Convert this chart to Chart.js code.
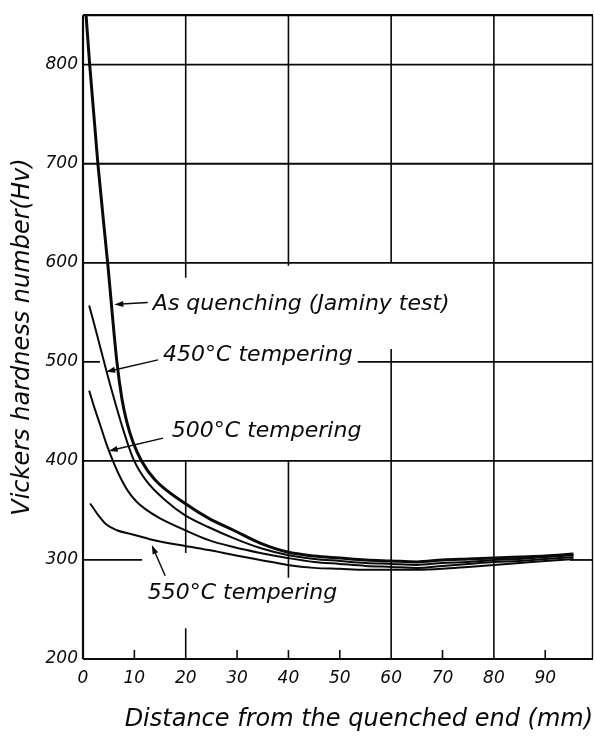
<!DOCTYPE html>
<html>
<head>
<meta charset="utf-8">
<script src="https://cdn.jsdelivr.net/npm/chart.js@4.4.0/dist/chart.umd.min.js"></script>
<style>
html, body { margin: 0; padding: 0; background: #fff; }
canvas { display: block; }
</style>
</head>
<body>
<canvas id="c" width="594" height="744"></canvas>
<script>
// ---------- data ----------
const xTickValues = [0, 10, 20, 30, 40, 50, 60, 70, 80, 90];
const yTickValues = [200, 300, 400, 500, 600, 700, 800];
const xGridValues = [20, 40, 60, 80];
const yGridValues = [300, 400, 500, 600, 700, 800];
const xMinorTickValues = [10, 30, 50, 70, 90];

const quenchDistance = [0.6, 1.3, 2.9, 4.8, 6.6, 7.6, 8.5, 9.8, 11.4, 14.0, 19.9, 24.5, 29.3, 34.5, 39.8, 45, 50, 55, 60, 65, 70, 75, 80, 85, 90, 95.5];
const quenchHardness = [850, 800, 700, 600, 500, 462, 440, 418, 400, 381, 357, 342, 330, 317, 308, 304, 302, 300, 299, 298, 300, 301, 302, 303, 304, 306];

const temper450Distance = [1.2, 2.6, 4.1, 5.6, 7.5, 9.8, 12.3, 16.3, 19.9, 24.5, 29.3, 34.5, 39.8, 45, 50, 55, 60, 65, 70, 75, 80, 85, 90, 95.5];
const temper450Hardness = [557, 530, 500, 471, 437, 402, 380, 359, 345, 333, 322, 312, 305, 301, 299, 297, 296, 295, 297, 298, 300, 301, 303, 305];

const temper500Distance = [1.2, 2.2, 3.3, 4.5, 5.9, 7.2, 8.7, 10.4, 12.5, 15.0, 19.9, 24.5, 29.3, 34.5, 39.8, 45, 50, 55, 60, 65, 70, 75, 80, 85, 90, 95.5];
const temper500Hardness = [471, 454, 437, 418, 399, 384, 370, 359, 350, 342, 330, 320, 313, 307, 302, 298, 296, 294, 293, 292, 294, 296, 298, 299, 301, 303];

const temper550Distance = [1.4, 3.0, 4.5, 6.6, 9.5, 13.0, 19.9, 24.5, 29.3, 34.5, 39.8, 45, 50, 55, 60, 65, 70, 75, 80, 85, 90, 95.5];
const temper550Hardness = [357, 345, 336, 330, 326, 321, 314, 310, 305, 300, 295, 292, 291, 290, 290, 290, 291, 293, 295, 297, 299, 301];

const seriesNames = ['As quenching (Jaminy test)', '450°C tempering', '500°C tempering', '550°C tempering'];
const xTitle = 'Distance from the quenched end (mm)';
const yTitle = 'Vickers hardness number(Hv)';

// ---------- styling ----------
const FONT = "'DejaVu Sans', sans-serif";
const INK = '#0a0a0a';
const seriesWidths = [3, 2, 2, 2];

// gaps in the hand-drawn grid (in data units)
const verticalGridBreaks = { 20: [[231, 307], [400, 585]], 40: [[209, 282], [400, 597]], 60: [[513, 600]] };
const horizontalGridBreaks = { 300: [[11.5, 94.8]], 500: [[3.3, 53.5]] };

// annotation labels with arrows (data units)
const annotations = [
  { text: seriesNames[0], at: [13.6, 558], from: [12.6, 560], to: [6.1, 558] },
  { text: seriesNames[1], at: [15.6, 507], from: [14.6, 502], to: [4.5, 490] },
  { text: seriesNames[2], at: [17.3, 430], from: [15.6, 423], to: [5.0, 410] },
  { text: seriesNames[3], at: [12.6, 266], from: [16.0, 284], to: [13.4, 315] }
];

const toPoints = (xs, ys) => xs.map((x, i) => ({ x: x, y: ys[i] }));
const seriesData = [
  toPoints(quenchDistance, quenchHardness),
  toPoints(temper450Distance, temper450Hardness),
  toPoints(temper500Distance, temper500Hardness),
  toPoints(temper550Distance, temper550Hardness)
];

function segmentsWithBreaks(lo, hi, breaks) {
  const segs = [];
  let start = lo;
  (breaks || []).slice().sort((a, b) => a[0] - b[0]).forEach(b => {
    if (b[0] > start) segs.push([start, b[0]]);
    start = Math.max(start, b[1]);
  });
  if (start < hi) segs.push([start, hi]);
  return segs;
}

const gridPlugin = {
  id: 'handGrid',
  beforeDatasetsDraw(chart) {
    const { ctx, chartArea: a, scales: { x, y } } = chart;
    ctx.save();
    ctx.strokeStyle = INK;
    ctx.lineCap = 'butt';
    ctx.lineWidth = 1.6;
    xGridValues.forEach(v => {
      const px = x.getPixelForValue(v);
      segmentsWithBreaks(y.min, y.max, verticalGridBreaks[v]).forEach(s => {
        ctx.beginPath();
        ctx.moveTo(px, y.getPixelForValue(s[0]));
        ctx.lineTo(px, y.getPixelForValue(s[1]));
        ctx.stroke();
      });
    });
    ctx.lineWidth = 1.8;
    yGridValues.forEach(v => {
      const py = y.getPixelForValue(v);
      segmentsWithBreaks(x.min, x.max, horizontalGridBreaks[v]).forEach(s => {
        ctx.beginPath();
        ctx.moveTo(x.getPixelForValue(s[0]), py);
        ctx.lineTo(x.getPixelForValue(s[1]), py);
        ctx.stroke();
      });
    });
    ctx.lineWidth = 1.6;
    xMinorTickValues.forEach(v => {
      const px = x.getPixelForValue(v);
      ctx.beginPath();
      ctx.moveTo(px, a.bottom);
      ctx.lineTo(px, a.bottom - 9);
      ctx.stroke();
    });
    ctx.lineWidth = 2.2;
    ctx.beginPath();
    ctx.moveTo(a.left, a.top); ctx.lineTo(a.right, a.top);
    ctx.moveTo(a.left, a.top); ctx.lineTo(a.left, a.bottom);
    ctx.moveTo(a.left, a.bottom); ctx.lineTo(a.right, a.bottom);
    ctx.stroke();
    ctx.lineWidth = 1.4;
    ctx.beginPath();
    ctx.moveTo(a.right - 0.5, a.top); ctx.lineTo(a.right - 0.5, a.bottom);
    ctx.stroke();
    ctx.restore();
  }
};

const annotationPlugin = {
  id: 'handNotes',
  afterDatasetsDraw(chart) {
    const { ctx, scales: { x, y } } = chart;
    ctx.save();
    ctx.fillStyle = INK;
    ctx.strokeStyle = INK;
    ctx.font = 'italic 22px ' + FONT;
    ctx.textAlign = 'left';
    ctx.textBaseline = 'middle';
    annotations.forEach(n => {
      ctx.fillText(n.text, x.getPixelForValue(n.at[0]), y.getPixelForValue(n.at[1]));
      const x0 = x.getPixelForValue(n.from[0]), y0 = y.getPixelForValue(n.from[1]);
      const x1 = x.getPixelForValue(n.to[0]), y1 = y.getPixelForValue(n.to[1]);
      const ang = Math.atan2(y1 - y0, x1 - x0);
      const L = 9, W = 3;
      ctx.lineWidth = 1.5;
      ctx.beginPath();
      ctx.moveTo(x0, y0);
      ctx.lineTo(x1 - Math.cos(ang) * L * 0.8, y1 - Math.sin(ang) * L * 0.8);
      ctx.stroke();
      ctx.beginPath();
      ctx.moveTo(x1, y1);
      ctx.lineTo(x1 - Math.cos(ang) * L - Math.sin(ang) * W, y1 - Math.sin(ang) * L + Math.cos(ang) * W);
      ctx.lineTo(x1 - Math.cos(ang) * L + Math.sin(ang) * W, y1 - Math.sin(ang) * L - Math.cos(ang) * W);
      ctx.closePath();
      ctx.fill();
    });
    ctx.restore();
  }
};

const tickFont = { family: FONT, size: 17, style: 'italic' };
const titleFont = { family: FONT, size: 24, style: 'italic' };

new Chart(document.getElementById('c').getContext('2d'), {
  type: 'line',
  data: {
    datasets: seriesData.map((pts, i) => ({
      label: seriesNames[i],
      data: pts,
      borderColor: INK,
      borderWidth: seriesWidths[i],
      pointRadius: 0,
      fill: false,
      cubicInterpolationMode: 'monotone'
    }))
  },
  options: {
    responsive: false,
    animation: false,
    devicePixelRatio: 1,
    layout: { padding: { top: 11, right: 1, left: 0, bottom: 0 } },
    plugins: { legend: { display: false }, tooltip: { enabled: false } },
    scales: {
      x: {
        type: 'linear', min: 0, max: 99.3,
        afterBuildTicks: s => { s.ticks = xTickValues.map(v => ({ value: v })); },
        afterFit: s => { s.height = 85; },
        grid: { display: false, drawTicks: false },
        border: { display: false },
        ticks: { font: tickFont, color: INK, padding: 9, maxRotation: 0, autoSkip: false, callback: v => String(v) },
        title: { display: true, text: xTitle, align: 'end', font: titleFont, color: INK, padding: { top: 0, bottom: 10 } }
      },
      y: {
        type: 'linear', min: 200, max: 850,
        afterBuildTicks: s => { s.ticks = yTickValues.map(v => ({ value: v })); },
        afterFit: s => { s.width = 83; },
        grid: { display: false, drawTicks: false },
        border: { display: false },
        ticks: { font: tickFont, color: INK, padding: 5, autoSkip: false, callback: v => String(v) },
        title: { display: true, text: yTitle, font: titleFont, color: INK, padding: { top: 8, bottom: 0 } }
      }
    }
  },
  plugins: [gridPlugin, annotationPlugin]
});
</script>
</body>
</html>
